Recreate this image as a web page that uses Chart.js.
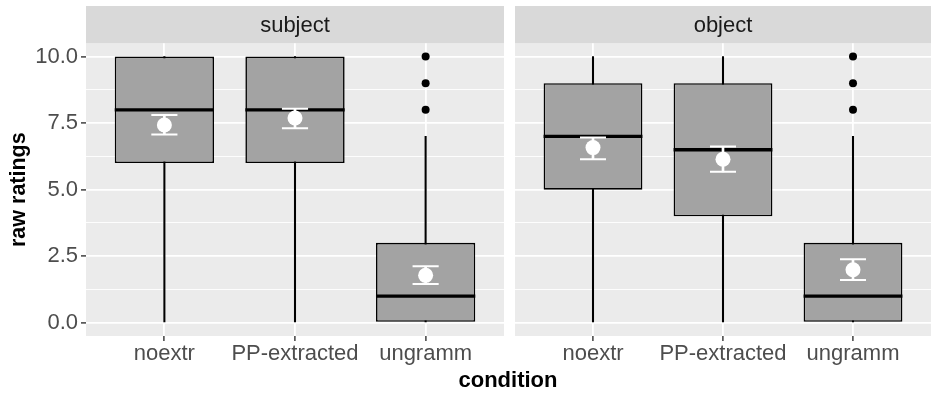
<!DOCTYPE html>
<html>
<head>
<meta charset="utf-8">
<script src="https://cdn.jsdelivr.net/npm/chart.js@4/dist/chart.umd.min.js"></script>
<style>
  html, body { margin: 0; padding: 0; background: #fff; }
  #wrap { position: relative; width: 931px; height: 394px; overflow: hidden; }
  .panel { position: absolute; top: 0; height: 394px; }
  #xtitle {
    position: absolute; left: 508px; top: 380px; transform: translate(-50%, -50%);
    font: bold 22px "Liberation Sans", Arial, sans-serif; color: #000; line-height: 1; white-space: nowrap;
  }
</style>
</head>
<body>
<div id="wrap">
  <div class="panel" style="left:0;width:504px"><canvas id="c1" width="504" height="394"></canvas></div>
  <div class="panel" style="left:515px;width:416px"><canvas id="c2" width="416" height="394"></canvas></div>
  <div id="xtitle">condition</div>
</div>
<script>
const FONT = '"Liberation Sans", Arial, sans-serif';
const TEXT_SIZE = 22;

// Conditions on the x axis and the two facets
const categories = ['noextr', 'PP-extracted', 'ungramm'];
const facetNames = ['subject', 'object'];

// y axis breaks
const yMajorTicks = [0, 2.5, 5, 7.5, 10];
const yMinorTicks = [1.25, 3.75, 6.25, 8.75];
const yTickLabels = ['0.0', '2.5', '5.0', '7.5', '10.0'];

// subject facet: box statistics, mean and its error bar, outliers
const subjectMin = [0, 0, 0];
const subjectQ1 = [6, 6, 0];
const subjectMedian = [8, 8, 1];
const subjectQ3 = [10, 10, 3];
const subjectMax = [10, 10, 7];
const subjectMean = [7.43, 7.69, 1.78];
const subjectLow = [7.07, 7.31, 1.45];
const subjectHigh = [7.81, 8.04, 2.12];
const subjectOutliers = [[], [], [8, 9, 10]];

// object facet
const objectMin = [0, 0, 0];
const objectQ1 = [5, 4, 0];
const objectMedian = [7, 6.5, 1];
const objectQ3 = [9, 9, 3];
const objectMax = [10, 10, 7];
const objectMean = [6.58, 6.14, 1.99];
const objectLow = [6.14, 5.67, 1.60];
const objectHigh = [6.96, 6.62, 2.38];
const objectOutliers = [[], [], [8, 9, 10]];

const BOX_FILL = '#A3A3A3';
const isMajor = v => yMajorTicks.includes(v);

// half of a width given in x-axis units, in pixels
const halfWidth = u => ctx => {
  const x = ctx.chart.scales.x;
  return Math.abs(x.getPixelForValue(1 + u) - x.getPixelForValue(1));
};

function buildDatasets(s) {
  const xs = categories.map((_, i) => i + 1);
  const pts = vals => vals.map((v, i) => ({ x: xs[i], y: v }));
  const range = (a, b) => xs.map((x, i) => ({ x, y: [a[i], b[i]] }));
  const outl = [];
  s.outliers.forEach((list, i) => list.forEach(v => outl.push({ x: xs[i], y: v })));
  return [
    { type: 'bar', data: range(s.min, s.max), backgroundColor: '#000', barThickness: 1.4,
      grouped: false, order: 7 },
    { type: 'bar', data: range(s.q1, s.q3), backgroundColor: BOX_FILL, borderColor: '#000',
      borderWidth: 1.6, borderSkipped: false, categoryPercentage: 1, barPercentage: 0.76,
      grouped: false, order: 6 },
    { type: 'scatter', data: pts(s.median), pointStyle: 'line', borderColor: '#000',
      borderWidth: 3.3, pointRadius: halfWidth(0.38), order: 5 },
    { type: 'bar', data: range(s.low, s.high), backgroundColor: '#fff', barThickness: 2,
      grouped: false, order: 4 },
    { type: 'scatter', data: pts(s.low), pointStyle: 'line', borderColor: '#fff',
      borderWidth: 2, pointRadius: halfWidth(0.1), order: 3 },
    { type: 'scatter', data: pts(s.high), pointStyle: 'line', borderColor: '#fff',
      borderWidth: 2, pointRadius: halfWidth(0.1), order: 2 },
    { type: 'scatter', data: pts(s.mean), pointStyle: 'circle', backgroundColor: '#fff',
      borderColor: '#fff', borderWidth: 0, pointRadius: 7.5, order: 1 },
    { type: 'scatter', data: outl, pointStyle: 'circle', backgroundColor: '#000',
      borderColor: '#000', borderWidth: 0, pointRadius: 4, order: 0 }
  ];
}

// panel background and facet strip
const facetStrip = {
  id: 'facetStrip',
  beforeDraw(chart, args, opts) {
    const { ctx, chartArea: a } = chart;
    ctx.save();
    ctx.fillStyle = '#EBEBEB';
    ctx.fillRect(a.left, a.top, a.right - a.left, a.bottom - a.top);
    ctx.fillStyle = '#D9D9D9';
    ctx.fillRect(a.left, 6, a.right - a.left, a.top - 6);
    ctx.fillStyle = '#1A1A1A';
    ctx.font = TEXT_SIZE + 'px ' + FONT;
    ctx.textAlign = 'center';
    ctx.textBaseline = 'middle';
    ctx.fillText(opts.label, (a.left + a.right) / 2, (6 + a.top) / 2 + 1);
    ctx.restore();
  }
};

function makeChart(canvasId, stats, facet, withYAxis) {
  return new Chart(document.getElementById(canvasId), {
    type: 'bar',
    data: { datasets: buildDatasets(stats) },
    plugins: [facetStrip],
    options: {
      responsive: false,
      devicePixelRatio: 1,
      animation: false,
      events: [],
      layout: { autoPadding: false, padding: { top: 43.3, left: 0, right: 0, bottom: 0 } },
      plugins: {
        legend: { display: false },
        tooltip: { enabled: false },
        facetStrip: { label: facet }
      },
      scales: {
        x: {
          type: 'linear', min: 0.4, max: 3.6, offset: false,
          afterBuildTicks: axis => { axis.ticks = categories.map((_, i) => ({ value: i + 1 })); },
          afterFit: axis => { axis.height = 58; },
          ticks: {
            callback: v => categories[v - 1] ?? '',
            color: '#4D4D4D', font: { family: FONT, size: TEXT_SIZE },
            padding: 0, autoSkip: false, maxRotation: 0
          },
          grid: { color: '#fff', lineWidth: 1.8, offset: false, drawTicks: true,
                  tickColor: '#333', tickWidth: 1.4, tickLength: 5 },
          border: { display: false }
        },
        y: {
          type: 'linear', min: -0.5, max: 10.5,
          afterBuildTicks: axis => {
            axis.ticks = [...yMajorTicks, ...yMinorTicks].sort((a, b) => a - b).map(v => ({ value: v }));
          },
          afterFit: axis => { axis.width = withYAxis ? 86 : 0; },
          ticks: {
            display: withYAxis,
            callback: v => { const i = yMajorTicks.indexOf(v); return i < 0 ? '' : yTickLabels[i]; },
            color: '#4D4D4D', font: { family: FONT, size: TEXT_SIZE }, padding: 3, autoSkip: false
          },
          grid: {
            color: '#fff',
            lineWidth: c => (c.tick && isMajor(c.tick.value)) ? 1.8 : 0.9,
            drawTicks: withYAxis,
            tickColor: c => (c.tick && isMajor(c.tick.value)) ? '#333' : 'rgba(0,0,0,0)',
            tickWidth: 1.4, tickLength: 5
          },
          border: { display: false },
          title: {
            display: withYAxis, text: 'raw ratings', color: '#000',
            font: { family: FONT, size: 21.5, weight: 'bold' }, padding: { top: 6, bottom: 0 }
          }
        }
      }
    }
  });
}

makeChart('c1', {
  min: subjectMin, q1: subjectQ1, median: subjectMedian, q3: subjectQ3, max: subjectMax,
  mean: subjectMean, low: subjectLow, high: subjectHigh, outliers: subjectOutliers
}, facetNames[0], true);

makeChart('c2', {
  min: objectMin, q1: objectQ1, median: objectMedian, q3: objectQ3, max: objectMax,
  mean: objectMean, low: objectLow, high: objectHigh, outliers: objectOutliers
}, facetNames[1], false);
</script>
</body>
</html>
